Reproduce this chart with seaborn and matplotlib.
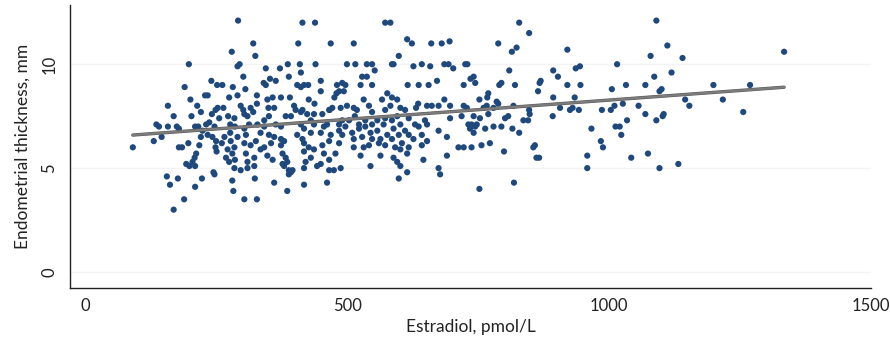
import matplotlib
matplotlib.use("Agg")
import matplotlib.pyplot as plt
import matplotlib.patheffects as pe
import numpy as np
import pandas as pd
import seaborn as sns

# (estradiol pmol/L, endometrial thickness mm)
points = [
    (197,10.0),(240,9.2),(189,8.9),(228,8.5),(233,8.5),(200,8.3),(157,8.0),(213,8.0),(168,7.5),(220,7.7),
    (241,7.6),(248,7.8),(252,7.9),(202,7.5),(135,7.1),(140,7.0),(157,7.0),(174,7.0),(178,6.9),(209,7.0),
    (215,7.0),(230,7.1),(236,7.2),(223,6.8),(233,6.6),(220,6.5),(242,6.5),(145,6.5),(130,6.3),(90,6.0),
    (178,6.0),(184,6.0),(196,6.2),(217,6.1),(248,6.0),(250,5.8),(211,5.7),(208,5.5),(204,5.3),(192,5.2),
    (198,5.1),(209,5.1),(244,4.8),(155,4.6),(176,4.5),(222,4.5),(161,4.2),(209,4.1),(188,3.5),(168,3.0),
    (291,12.1),(414,12.0),(438,12.0),(320,11.0),(406,11.0),(468,11.0),(279,10.6),(324,10.4),
    (290,9.9),(294,10.0),(344,9.8),(371,9.8),(386,10.0),(409,10.0),(439,10.0),
    (301,9.4),(352,9.3),(363,9.2),(388,9.4),(411,9.6),
    (251,9.0),(261,9.0),(281,8.9),(305,8.8),(340,9.1),(344,9.0),(404,9.0),(411,8.9),(417,9.0),(425,9.0),
    (449,9.2),(449,8.7),(480,9.0),
    (274,8.4),(290,8.5),(327,8.5),(347,8.3),(357,8.4),(373,8.4),(390,8.4),(426,8.3),(475,8.4),(479,8.6),
    (263,7.9),(296,8.0),(301,7.8),(315,7.9),(327,8.1),(349,7.9),(360,7.9),(398,8.0),(401,7.8),(414,7.8),
    (437,8.1),(466,7.8),(471,7.9),(487,7.9),
    (255,7.4),(272,7.5),(284,7.4),(303,7.6),(309,7.5),(320,7.7),(341,7.3),(350,7.5),(382,7.5),(392,7.5),
    (411,7.7),(423,7.6),(436,7.6),(452,7.6),(465,7.8),
    (246,7.0),(276,7.1),(285,7.0),(303,6.9),(312,7.1),(328,7.1),(341,7.0),(363,7.1),(373,7.0),(411,7.1),
    (417,6.9),(430,7.3),(436,7.1),(455,7.0),(461,7.1),(484,7.1),
    (265,6.5),(276,6.7),(290,6.5),(306,6.6),(334,6.7),(350,6.6),(360,6.5),(373,6.4),(404,6.6),(414,6.4),
    (430,6.7),(449,6.7),(468,6.6),(490,6.6),
    (249,6.3),(260,6.2),(277,6.3),(284,6.0),(303,6.2),(315,6.1),(325,6.3),(341,6.0),(354,6.2),(373,6.1),
    (379,6.3),(417,6.2),(426,6.0),(452,6.1),(465,6.3),(484,6.2),
    (271,5.9),(280,5.7),(306,5.7),(334,5.9),(347,5.6),(376,5.7),(382,5.5),(417,5.8),(436,5.9),(455,5.7),
    (477,5.7),
    (268,5.5),(274,5.3),(285,5.4),(309,5.3),(322,5.5),(357,5.4),(376,5.2),(385,5.3),(420,5.3),(430,5.5),
    (449,5.2),(465,5.4),
    (284,5.0),(296,4.9),(309,5.0),(322,5.1),(379,5.1),(388,4.9),(395,4.9),(417,5.0),(442,5.1),(465,4.9),
    (474,4.9),(487,5.0),
    (246,4.7),(392,4.8),(388,4.7),(280,4.4),(323,4.5),(360,4.3),(417,4.2),(461,4.3),
    (282,3.9),(385,3.9),(303,3.5),(327,3.5),
    (572,12.0),(582,12.0),(512,11.0),(614,11.2),(623,11.0),(660,11.0),(680,11.0),(695,11.1),(598,10.4),
    (499,10.0),(515,10.0),(537,10.0),(547,10.0),(552,9.7),(585,10.0),(588,10.0),(626,9.9),(642,10.0),
    (658,9.9),(685,10.0),(693,10.0),(702,9.8),
    (528,9.4),(537,9.4),(615,9.0),(636,9.0),(655,9.0),(671,9.2),(490,9.1),(496,9.0),(525,9.0),(547,9.0),
    (484,8.7),(493,8.7),(531,8.3),(576,8.6),(585,8.4),(595,8.3),(635,8.1),(652,8.0),(661,8.0),(674,8.0),
    (685,8.3),(696,8.0),
    (499,8.0),(512,7.9),(518,7.8),(541,8.0),(547,7.7),(566,8.3),(572,7.8),(582,8.0),(601,7.9),(610,7.8),
    (631,7.9),
    (490,7.3),(503,7.3),(514,7.5),(522,7.1),(534,7.3),(547,7.1),(557,7.3),(572,7.4),(585,7.3),(595,7.5),
    (617,7.4),(629,7.1),(648,7.3),(696,7.4),(718,7.5),
    (484,6.8),(496,7.0),(509,6.7),(522,6.9),(534,7.0),(544,6.7),(557,6.8),(569,7.1),(588,6.9),(601,7.1),
    (610,6.8),(636,7.0),(652,7.1),(674,6.8),
    (512,6.4),(528,6.5),(547,6.4),(563,6.4),(576,6.6),(585,6.4),(598,6.6),(617,6.6),(626,6.4),(642,6.6),
    (690,6.5),
    (512,6.0),(531,6.0),(541,6.1),(560,6.2),(572,6.1),(591,6.0),(604,6.2),(617,6.0),(642,6.1),(652,6.3),
    (712,6.0),
    (525,5.6),(563,5.6),(588,5.5),(601,5.9),(614,5.7),(690,5.6),
    (544,5.1),(595,5.3),(601,5.1),(614,4.8),(645,5.4),(674,5.0),(677,4.7),(598,4.5),
    (828,12.0),(847,11.5),(788,11.0),(814,10.6),(823,10.8),(920,10.7),(725,10.0),(729,10.0),
    (809,9.7),(893,9.7),(902,9.4),(936,9.8),(944,9.9),
    (735,9.3),(741,9.4),(744,9.1),(722,9.0),
    (790,9.0),(794,9.1),(820,9.0),(869,9.2),(867,9.1),(864,8.7),(920,9.0),(945,9.0),
    (752,8.3),(767,8.4),(769,8.6),(785,8.2),(788,8.1),(817,8.0),(893,8.4),(934,8.4),
    (722,8.0),(728,7.9),(766,8.0),(779,7.9),(760,7.9),
    (847,7.8),(906,7.9),(925,7.8),(930,7.9),(942,7.8),
    (741,7.5),(753,7.4),(769,7.6),(801,7.4),(807,7.5),(836,7.3),(845,7.3),(848,7.6),(892,7.5),
    (731,7.1),(737,7.1),(744,7.0),(747,7.1),(734,6.9),(741,6.7),(763,6.9),(779,7.0),(794,7.0),(815,6.9),
    (828,6.7),(966,6.9),
    (722,6.0),(737,6.0),(756,6.1),(772,6.2),(799,5.8),(855,6.0),(858,6.1),(861,5.5),(866,5.5),
    (958,5.6),(958,5.0),(818,4.3),(752,4.0),
    (1090,12.1),(1111,10.9),(1079,10.4),(1140,10.3),(1015,10.0),(1119,9.6),(1086,9.4),
    (1005,8.8),(1032,9.0),(1069,9.0),(1096,8.7),(1100,8.8),(1199,9.0),
    (1026,8.1),(1010,8.0),(1003,7.8),(986,7.8),(1056,8.0),(1145,8.3),(1153,8.0),(1217,8.3),
    (1069,7.6),(1104,7.6),(1102,7.5),(1034,7.3),(1090,7.3),(1012,7.0),(1020,7.0),(1023,6.6),
    (984,6.3),(988,6.0),(1042,5.5),(1074,5.7),(1132,5.2),(1096,5.0),
    (1334,10.6),(1269,9.0),(1256,7.7),
]
estradiol = [p[0] for p in points]
thickness = [p[1] for p in points]

x_ticks = [0, 500, 1000, 1500]
y_ticks = [0, 5, 10]
x_label = "Estradiol, pmol/L"
y_label = "Endometrial thickness, mm"

sns.set_theme(style="white")
plt.rcParams["font.family"] = ["Lato", "DejaVu Sans"]

df = pd.DataFrame({"estradiol": estradiol, "thickness": thickness})

fig = plt.figure(figsize=(8.9, 3.45), dpi=100)
ax = fig.add_axes([70/890, 1-288/345, (871-70)/890, (288-5)/345])

ax.grid(axis="y", color="#f3f3f3", linewidth=1.0)
ax.set_axisbelow(True)

sns.regplot(data=df, x="estradiol", y="thickness", ax=ax, ci=None,
            scatter_kws=dict(s=20, color="#1f497d", edgecolors="none", alpha=1.0, zorder=2),
            line_kws=dict(color="#7c7c7c", linewidth=1.6, zorder=3,
                          path_effects=[pe.Stroke(linewidth=2.4, foreground="#5a5a5a"), pe.Normal()]))

ax.set_xlim(-30, 1500)
ax.set_ylim(-0.77, 12.85)
ax.set_xticks(x_ticks)
ax.set_yticks(y_ticks)
ax.set_yticklabels([str(t) for t in y_ticks], rotation=90, va="center")
ax.tick_params(axis="both", direction="in", length=8.5, width=1, color="#222222",
               labelsize=12, labelcolor="#222222")
ax.tick_params(axis="x", pad=7)
ax.tick_params(axis="y", pad=9)
ax.set_xlabel(x_label, fontsize=12.5, color="#222222", labelpad=4)
ax.set_ylabel(y_label, fontsize=12.5, color="#222222", labelpad=8)

for side in ["top", "right"]:
    ax.spines[side].set_visible(False)
for side in ["left", "bottom"]:
    ax.spines[side].set_color("#222222")
    ax.spines[side].set_linewidth(1.0)

fig.savefig("out.png", dpi=100)
